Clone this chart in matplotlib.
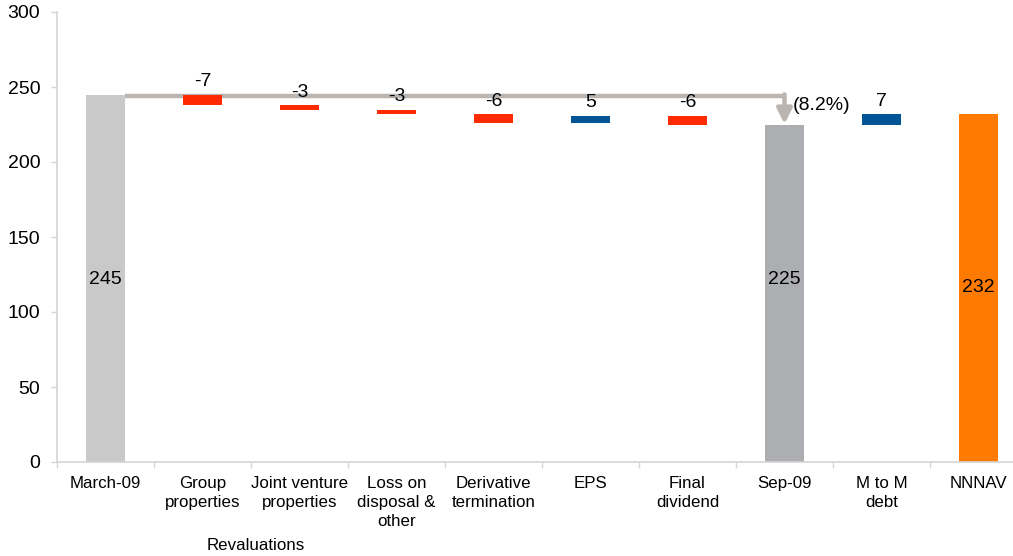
import matplotlib.pyplot as plt
from matplotlib.ticker import FixedLocator, NullFormatter

plt.rcParams['font.family'] = ['Liberation Sans', 'DejaVu Sans']

# === Data ===
categories = ["March-09", "Group\nproperties", "Joint venture\nproperties",
              "Loss on\ndisposal &\nother", "Derivative\ntermination", "EPS",
              "Final\ndividend", "Sep-09", "M to M\ndebt", "NNNAV"]
# totals (None = step bar)
totals = [245, None, None, None, None, None, None, 225, None, 232]
# step bars: (bottom, top, label)
steps = {
    1: (238, 245, "-7"),
    2: (235, 238, "-3"),
    3: (232, 235, "-3"),
    4: (226, 232, "-6"),
    5: (226, 231, "5"),
    6: (225, 231, "-6"),
    8: (225, 232, "7"),
}
total_label_y = {0: 122, 7: 122, 9: 116}
change_pct = "(8.2%)"
group_label = "Revaluations"

# === Colours ===
C_START = "#c9c9c9"
C_MID = "#adaeb2"
C_END = "#ff7a00"
C_NEG = "#ff2a00"
C_POS = "#005596"
C_LINE = "#bab5b1"
C_AXIS = "#d4d4d4"

FS_VAL = 14
FS_TICK = 12.2

fig = plt.figure(figsize=(10.13, 5.56), dpi=100)
ax = fig.add_axes([57 / 1013, 94 / 556, 970 / 1013, 450 / 556])

W = 0.4
tot_colors = {0: C_START, 7: C_MID, 9: C_END}
for i, v in enumerate(totals):
    if v is not None:
        ax.bar(i, v, width=W, color=tot_colors[i], zorder=2)
        ax.text(i, total_label_y[i], str(v), ha="center", va="center", fontsize=FS_VAL, zorder=4)

for i, (lo, hi, lab) in steps.items():
    col = C_NEG if lab.startswith("-") else C_POS
    ax.bar(i, hi - lo, bottom=lo, width=W, color=col, zorder=3)
    ax.annotate(lab, (i, hi), xytext=(0, 3), textcoords="offset points",
                ha="center", va="bottom", fontsize=FS_VAL, zorder=4)

# connector from March-09 to Sep-09
ax.plot([W / 2, 7], [244, 244], color=C_LINE, lw=3.2, solid_capstyle="butt", zorder=1)
ax.annotate("", xy=(7, 225.3), xytext=(7, 245.1),
            arrowprops=dict(arrowstyle="-|>,head_width=0.45,head_length=0.9",
                            color=C_LINE, lw=3.2, shrinkA=0, shrinkB=0), zorder=1)
ax.text(7.09, 238, change_pct, ha="left", va="center", fontsize=FS_VAL)

ax.set_xlim(-0.5, 9.5)
ax.set_ylim(0, 300)
ax.set_yticks(range(0, 301, 50))
ax.set_xticks(range(len(categories)))
ax.set_xticklabels(categories, fontsize=FS_TICK, linespacing=1.32)
ax.xaxis.set_minor_locator(FixedLocator([x - 0.5 for x in range(len(categories) + 1)]))
ax.xaxis.set_minor_formatter(NullFormatter())
ax.tick_params(axis="x", which="major", length=0, pad=10)
ax.tick_params(axis="x", which="minor", length=4, color=C_AXIS, width=1)
ax.tick_params(axis="y", length=4, color=C_AXIS, width=1, labelsize=FS_VAL, pad=8)

for s in ["top", "right"]:
    ax.spines[s].set_visible(False)
for s in ["left", "bottom"]:
    ax.spines[s].set_color(C_AXIS)
    ax.spines[s].set_linewidth(1.2)

ax.text(1.55, -56, group_label, ha="center", va="center", fontsize=FS_TICK, clip_on=False)

fig.savefig("out.png", dpi=100)
